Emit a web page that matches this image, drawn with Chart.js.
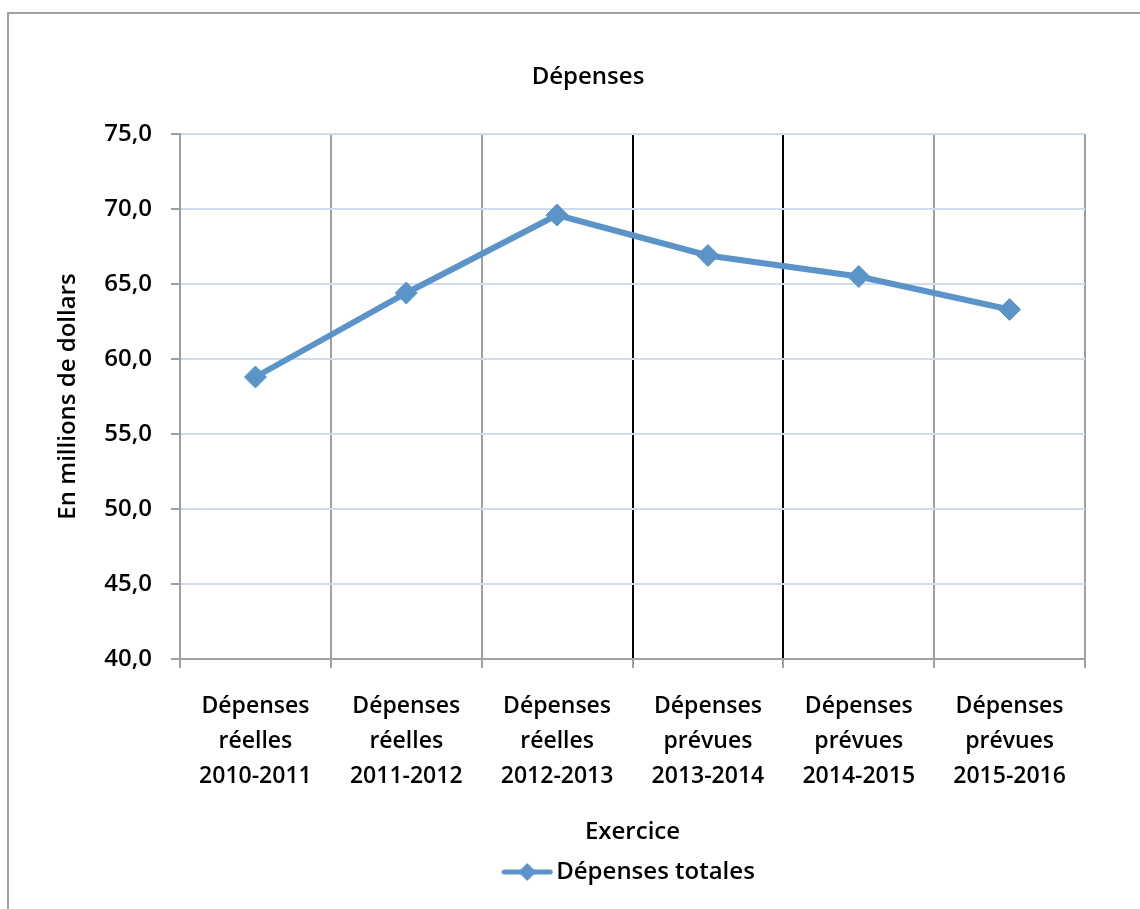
<!DOCTYPE html>
<html lang="fr">
<head>
<meta charset="utf-8">
<title>Dépenses</title>
<script src="https://cdn.jsdelivr.net/npm/chart.js@4/dist/chart.umd.min.js"></script>
<style>
    html, body { margin: 0; padding: 0; background: #fff; overflow: hidden; }
    #cadre {
        position: absolute; left: 7px; top: 12px; width: 1200px; height: 1000px;
        border-top: 2px solid #a0a0a0; border-left: 2px solid #a0a0a0;
    }
    #graphique { position: absolute; left: 0; top: 0; }
</style>
</head>
<body>
<div id="cadre"></div>
<canvas id="graphique" width="1140" height="909"></canvas>
<script>
let titre = 'Dépenses';
let categories = [
    ['Dépenses', 'réelles', '2010-2011'],
    ['Dépenses', 'réelles', '2011-2012'],
    ['Dépenses', 'réelles', '2012-2013'],
    ['Dépenses', 'prévues', '2013-2014'],
    ['Dépenses', 'prévues', '2014-2015'],
    ['Dépenses', 'prévues', '2015-2016']
];
let depensesTotales = [58.8, 64.4, 69.6, 66.9, 65.5, 63.3];
let nomSerie = 'Dépenses totales';
let titreAxeX = 'Exercice';
let titreAxeY = 'En millions de dollars';
let axeYMin = 40;
let axeYMax = 75;
let axeYPas = 5;

const bleu = '#5b94c9';
const gris = '#a0a0a0';
const police = '"Open Sans", "Liberation Sans", sans-serif';
const poids = '600';

// petit dessin ligne + losange pour la légende
const marqueur = document.createElement('canvas');
marqueur.width = 52;
marqueur.height = 20;
const m = marqueur.getContext('2d');
m.strokeStyle = bleu;
m.lineWidth = 5;
m.lineCap = 'round';
m.beginPath();
m.moveTo(3, 10);
m.lineTo(49, 10);
m.stroke();
m.fillStyle = bleu;
m.beginPath();
m.moveTo(26, 1);
m.lineTo(35, 10);
m.lineTo(26, 19);
m.lineTo(17, 10);
m.closePath();
m.fill();

// titre centré sur le cadre, pas sur la zone du graphique
const pluginTitre = {
    id: 'titre',
    afterDraw(chart) {
        const ctx = chart.ctx;
        ctx.save();
        ctx.font = poids + ' 24px ' + police;
        ctx.fillStyle = '#000';
        ctx.textAlign = 'center';
        ctx.textBaseline = 'middle';
        ctx.fillText(titre, 588, 77);
        ctx.restore();
    }
};

let datos = {
    labels: categories,
    datasets: [{
        label: nomSerie,
        data: depensesTotales,
        borderColor: bleu,
        backgroundColor: bleu,
        borderWidth: 6,
        tension: 0,
        pointStyle: 'rectRot',
        pointRadius: 11,
        pointHoverRadius: 11,
        pointBorderWidth: 1,
        pointBackgroundColor: bleu,
        pointBorderColor: bleu
    }]
};

let opciones = {
    responsive: false,
    animation: false,
    devicePixelRatio: 1,
    layout: {
        padding: { top: 134, left: 0, right: 55, bottom: 15 }
    },
    plugins: {
        title: { display: false },
        tooltip: { enabled: false },
        legend: {
            position: 'bottom',
            fullSize: false,
            labels: {
                usePointStyle: true,
                pointStyle: marqueur,
                pointStyleWidth: 34,
                padding: 13,
                color: '#000',
                font: { family: police, size: 24, weight: poids }
            }
        }
    },
    scales: {
        x: {
            offset: true,
            afterFit: (scale) => { scale.height = 188; },
            grid: {
                offset: true,
                lineWidth: 2,
                tickLength: 9,
                color: (c) => (c.index === 3 || c.index === 4) ? '#000' : gris,
                tickColor: gris
            },
            border: { color: gris, width: 2 },
            ticks: {
                color: '#000',
                padding: 21,
                maxRotation: 0,
                autoSkip: false,
                font: { family: police, size: 23, weight: poids, lineHeight: 35 / 23 }
            },
            title: {
                display: true,
                text: titreAxeX,
                color: '#000',
                padding: { top: 0, bottom: 0 },
                font: { family: police, size: 24, weight: poids, lineHeight: 1.2 }
            }
        },
        y: {
            min: axeYMin,
            max: axeYMax,
            afterFit: (scale) => { scale.width = 180; },
            grid: {
                color: '#cfdcf0',
                lineWidth: 2,
                tickLength: 9,
                tickColor: gris
            },
            border: { color: gris, width: 2 },
            ticks: {
                stepSize: axeYPas,
                color: '#000',
                padding: 19,
                font: { family: police, size: 24, weight: poids },
                callback: (v) => v.toFixed(1).replace('.', ',')
            },
            title: {
                display: true,
                text: titreAxeY,
                color: '#000',
                padding: { top: 54, bottom: 0 },
                font: { family: police, size: 24, weight: poids, lineHeight: 1.2 }
            }
        }
    }
};

let ctx = document.getElementById('graphique').getContext('2d');

let miGrafico = new Chart(ctx, {
    type: 'line',
    data: datos,
    options: opciones,
    plugins: [pluginTitre]
});
</script>
</body>
</html>
